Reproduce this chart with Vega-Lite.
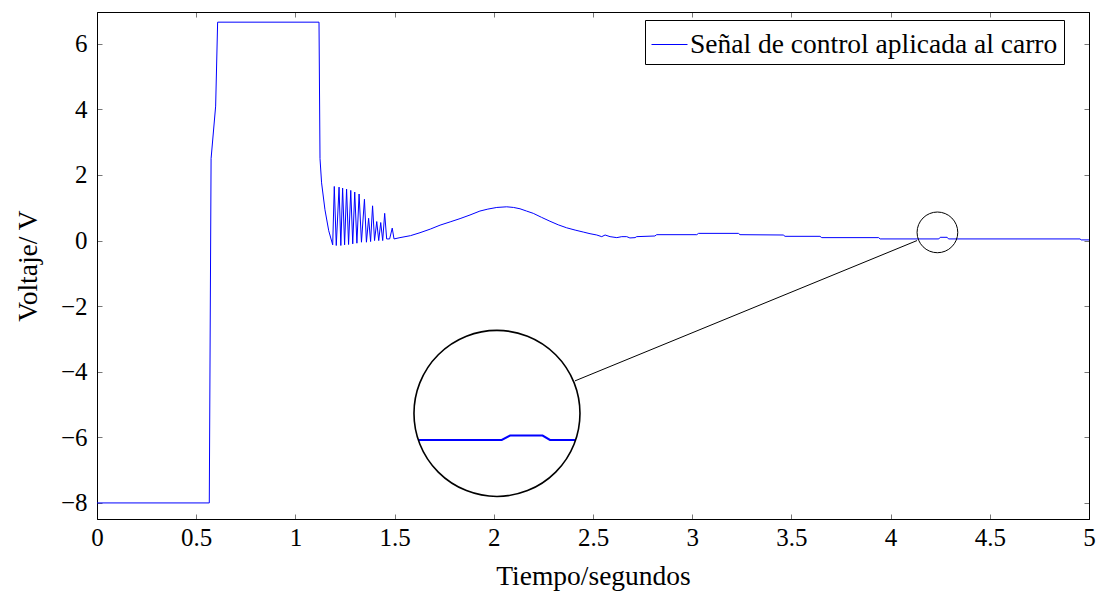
{
  "$schema": "https://vega.github.io/schema/vega-lite/v6.json",
  "width": 992,
  "height": 507,
  "autosize": {"type": "none"},
  "padding": {"left": 97, "top": 12, "right": 10, "bottom": 73},
  "config": {
    "view": {"stroke": "black", "strokeWidth": 1},
    "font": "Liberation Serif"
  },
  "datasets": {
    "signal": [
      {"t": 0, "v": -8}, {"t": 0.566, "v": -8}, {"t": 0.575, "v": 2.5}, {"t": 0.598, "v": 4.1}, {"t": 0.608, "v": 6.66},
      {"t": 1.119, "v": 6.66}, {"t": 1.124, "v": 2.5}, {"t": 1.132, "v": 1.76}, {"t": 1.149, "v": 0.94}, {"t": 1.168, "v": 0.3}, {"t": 1.188, "v": -0.13},
      {"t": 1.196, "v": 1.65}, {"t": 1.206, "v": -0.15}, {"t": 1.22, "v": 1.63}, {"t": 1.229, "v": -0.15}, {"t": 1.238, "v": 1.6}, {"t": 1.248, "v": -0.13},
      {"t": 1.258, "v": 1.57}, {"t": 1.268, "v": -0.12}, {"t": 1.279, "v": 1.53}, {"t": 1.289, "v": -0.1}, {"t": 1.299, "v": 1.48}, {"t": 1.31, "v": -0.08},
      {"t": 1.321, "v": 1.42}, {"t": 1.333, "v": -0.05}, {"t": 1.348, "v": 1.26}, {"t": 1.358, "v": -0.05}, {"t": 1.369, "v": 0.68}, {"t": 1.379, "v": -0.03},
      {"t": 1.389, "v": 1.06}, {"t": 1.399, "v": 0.0}, {"t": 1.41, "v": 0.58}, {"t": 1.42, "v": 0.0}, {"t": 1.43, "v": 0.55}, {"t": 1.44, "v": 0.0},
      {"t": 1.45, "v": 0.83}, {"t": 1.46, "v": 0.05}, {"t": 1.475, "v": 0.05}, {"t": 1.488, "v": 0.38}, {"t": 1.497, "v": 0.05}, {"t": 1.527, "v": 0.09},
      {"t": 1.58, "v": 0.15}, {"t": 1.628, "v": 0.24}, {"t": 1.68, "v": 0.35}, {"t": 1.729, "v": 0.47}, {"t": 1.78, "v": 0.57}, {"t": 1.83, "v": 0.67},
      {"t": 1.88, "v": 0.78}, {"t": 1.93, "v": 0.9}, {"t": 1.97, "v": 0.96}, {"t": 2.015, "v": 1.01}, {"t": 2.065, "v": 1.03}, {"t": 2.1, "v": 1.01},
      {"t": 2.132, "v": 0.97}, {"t": 2.165, "v": 0.9}, {"t": 2.199, "v": 0.83}, {"t": 2.24, "v": 0.71}, {"t": 2.283, "v": 0.59}, {"t": 2.325, "v": 0.48},
      {"t": 2.367, "v": 0.39}, {"t": 2.41, "v": 0.32}, {"t": 2.451, "v": 0.26}, {"t": 2.485, "v": 0.21}, {"t": 2.519, "v": 0.17}, {"t": 2.544, "v": 0.12},
      {"t": 2.561, "v": 0.17}, {"t": 2.586, "v": 0.12}, {"t": 2.62, "v": 0.09}, {"t": 2.645, "v": 0.12}, {"t": 2.67, "v": 0.12}, {"t": 2.686, "v": 0.08},
      {"t": 2.712, "v": 0.09}, {"t": 2.72, "v": 0.12}, {"t": 2.812, "v": 0.14}, {"t": 2.821, "v": 0.18}, {"t": 3.023, "v": 0.18}, {"t": 3.032, "v": 0.22},
      {"t": 3.233, "v": 0.22}, {"t": 3.241, "v": 0.18}, {"t": 3.459, "v": 0.17}, {"t": 3.468, "v": 0.13}, {"t": 3.644, "v": 0.13}, {"t": 3.653, "v": 0.09},
      {"t": 3.94, "v": 0.09}, {"t": 3.947, "v": 0.05}, {"t": 4.243, "v": 0.05}, {"t": 4.25, "v": 0.1}, {"t": 4.285, "v": 0.1}, {"t": 4.292, "v": 0.05},
      {"t": 4.955, "v": 0.05}, {"t": 4.96, "v": 0.02}, {"t": 5.0, "v": 0.02}
    ],
    "inset": [
      {"t": 1.623, "v": -6.078}, {"t": 2.04, "v": -6.078}, {"t": 2.082, "v": -5.947}, {"t": 2.246, "v": -5.947}, {"t": 2.283, "v": -6.078}, {"t": 2.409, "v": -6.078}
    ],
    "spySmall": [{"t": 4.236, "v": 0.25}],
    "spyLarge": [{"t": 2.016, "v": -5.27}],
    "link": [{"t": 2.409, "v": -4.279, "t2": 4.133, "v2": 0.0}]
  },
  "layer": [
    {
      "data": {"name": "signal"},
      "mark": {"type": "line", "strokeWidth": 1, "interpolate": "linear"},
      "encoding": {
        "x": {
          "field": "t", "type": "quantitative",
          "scale": {"domain": [0, 5], "nice": false, "zero": false},
          "axis": {
            "orient": "bottom", "title": "Tiempo/segundos", "values": [0, 0.5, 1, 1.5, 2, 2.5, 3, 3.5, 4, 4.5, 5],
            "format": "~g", "grid": false, "domainColor": "black", "domainWidth": 1,
            "tickSize": -5, "tickColor": "#777", "tickWidth": 1, "labelFlush": false, "labelOverlap": false,
            "labelFont": "Liberation Serif", "labelFontSize": 25, "labelColor": "black", "labelPadding": 11,
            "titleFont": "Liberation Serif", "titleFontSize": 27.5, "titleFontWeight": "normal", "titleColor": "black", "titlePadding": 12
          }
        },
        "y": {
          "field": "v", "type": "quantitative",
          "scale": {"domain": [-8.49, 6.97], "nice": false, "zero": false},
          "axis": {
            "orient": "left", "title": "Voltaje/ V", "values": [-8, -6, -4, -2, 0, 2, 4, 6],
            "grid": false, "domainColor": "black", "domainWidth": 1, "labelFlush": false, "labelOverlap": false,
            "tickSize": -5, "tickColor": "#777", "tickWidth": 1,
            "labelFont": "Liberation Serif", "labelFontSize": 25, "labelColor": "black", "labelPadding": 15,
            "titleFont": "Liberation Serif", "titleFontSize": 27.5, "titleFontWeight": "normal", "titleColor": "black", "titlePadding": 18
          }
        },
        "color": {
          "datum": "Señal de control aplicada al carro",
          "type": "nominal",
          "scale": {"range": ["#0000ff"]},
          "legend": {
            "title": null, "orient": "none", "legendX": 548, "legendY": 8,
            "strokeColor": "black", "fillColor": "white", "padding": 6, "cornerRadius": 0,
            "symbolType": "stroke", "symbolSize": 1296, "symbolStrokeWidth": 1, "symbolStrokeColor": "#0000ff",
            "labelFont": "Liberation Serif", "labelFontSize": 27.5, "labelColor": "black", "labelOffset": 2, "labelLimit": 600
          }
        }
      }
    },
    {
      "data": {"name": "inset"},
      "mark": {"type": "line", "color": "#0000ff", "strokeWidth": 2},
      "encoding": {
        "x": {"field": "t", "type": "quantitative", "axis": null},
        "y": {"field": "v", "type": "quantitative", "axis": null}
      }
    },
    {
      "data": {"name": "spySmall"},
      "mark": {"type": "point", "shape": "circle", "filled": false, "color": "black", "strokeWidth": 1, "size": 1656, "opacity": 1},
      "encoding": {
        "x": {"field": "t", "type": "quantitative", "axis": null},
        "y": {"field": "v", "type": "quantitative", "axis": null}
      }
    },
    {
      "data": {"name": "spyLarge"},
      "mark": {"type": "point", "shape": "circle", "filled": false, "color": "black", "strokeWidth": 1.6, "size": 27556, "opacity": 1},
      "encoding": {
        "x": {"field": "t", "type": "quantitative", "axis": null},
        "y": {"field": "v", "type": "quantitative", "axis": null}
      }
    },
    {
      "data": {"name": "link"},
      "mark": {"type": "rule", "color": "black", "strokeWidth": 1},
      "encoding": {
        "x": {"field": "t", "type": "quantitative",
          "axis": {"orient": "top", "title": null, "labels": false, "values": [0, 0.5, 1, 1.5, 2, 2.5, 3, 3.5, 4, 4.5, 5], "grid": false, "domainColor": "black", "tickSize": -5, "tickColor": "#777", "tickWidth": 1}},
        "y": {"field": "v", "type": "quantitative",
          "axis": {"orient": "right", "title": null, "labels": false, "values": [-8, -6, -4, -2, 0, 2, 4, 6], "grid": false, "domainColor": "black", "tickSize": -5, "tickColor": "#777", "tickWidth": 1}},
        "x2": {"field": "t2"},
        "y2": {"field": "v2"}
      }
    }
  ],
  "resolve": {"axis": {"x": "independent", "y": "independent"}}
}
